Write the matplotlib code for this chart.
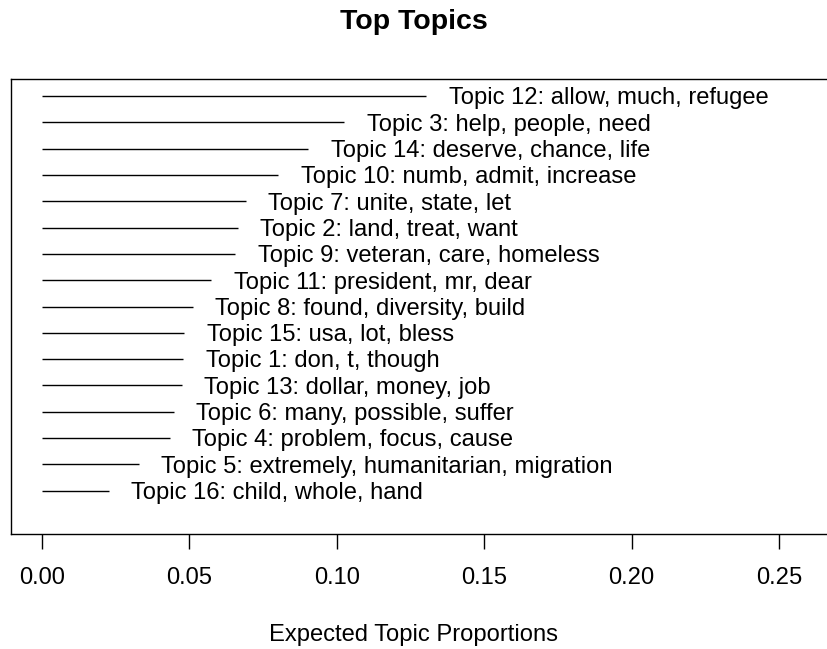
import matplotlib
matplotlib.use("Agg")
import matplotlib.pyplot as plt

plt.rcParams["font.family"] = ["Liberation Sans", "DejaVu Sans"]

# Expected topic proportions, listed from the least to the most prevalent topic
labels = [
    "Topic 16: child, whole, hand",
    "Topic 5: extremely, humanitarian, migration",
    "Topic 4: problem, focus, cause",
    "Topic 6: many, possible, suffer",
    "Topic 13: dollar, money, job",
    "Topic 1: don, t, though",
    "Topic 15: usa, lot, bless",
    "Topic 8: found, diversity, build",
    "Topic 11: president, mr, dear",
    "Topic 9: veteran, care, homeless",
    "Topic 2: land, treat, want",
    "Topic 7: unite, state, let",
    "Topic 10: numb, admit, increase",
    "Topic 14: deserve, chance, life",
    "Topic 3: help, people, need",
    "Topic 12: allow, much, refugee",
]
proportions = [
    0.0227, 0.0329, 0.0434, 0.0448, 0.0475, 0.0480, 0.0483, 0.0512,
    0.0575, 0.0656, 0.0664, 0.0692, 0.0802, 0.0904, 0.1025, 0.1303,
]
xticks = [0.00, 0.05, 0.10, 0.15, 0.20, 0.25]

W, H = 827, 649
FS = 17.1
fig = plt.figure(figsize=(W / 100, H / 100), dpi=100)
ax = fig.add_axes([11 / W, 1 - 534 / H, 830 / W, (534 - 79) / H])

k = len(proportions)
xmax = 2 * max(proportions)
ax.set_xlim(-0.04 * xmax, 1.04 * xmax)
ax.set_ylim(-0.04 * k, k * 1.04)

for i, (p, lab) in enumerate(zip(proportions, labels), start=1):
    ax.plot([0, p], [i, i], color="black", lw=1.0, solid_capstyle="butt")
    ax.annotate(lab, xy=(p, i), xytext=(16.3, -6.0), textcoords="offset points",
                ha="left", va="baseline", fontsize=FS, color="black")

ax.set_yticks([])
ax.set_xticks(xticks)
ax.set_xticklabels([f"{t:.2f}" for t in xticks], fontsize=FS)
ax.tick_params(axis="x", direction="out", length=10.8, width=1.0, pad=13)
for s in ["left", "top", "bottom"]:
    ax.spines[s].set_linewidth(1.0)
ax.spines["right"].set_visible(False)

fig.text(0.5, 1 - 22 / H, "Top Topics", ha="center", va="center",
         fontsize=20.5, fontweight="bold")
fig.text(0.5, 1 - 635 / H, "Expected Topic Proportions", ha="center",
         va="center", fontsize=FS)

fig.savefig("out.png", dpi=100)
